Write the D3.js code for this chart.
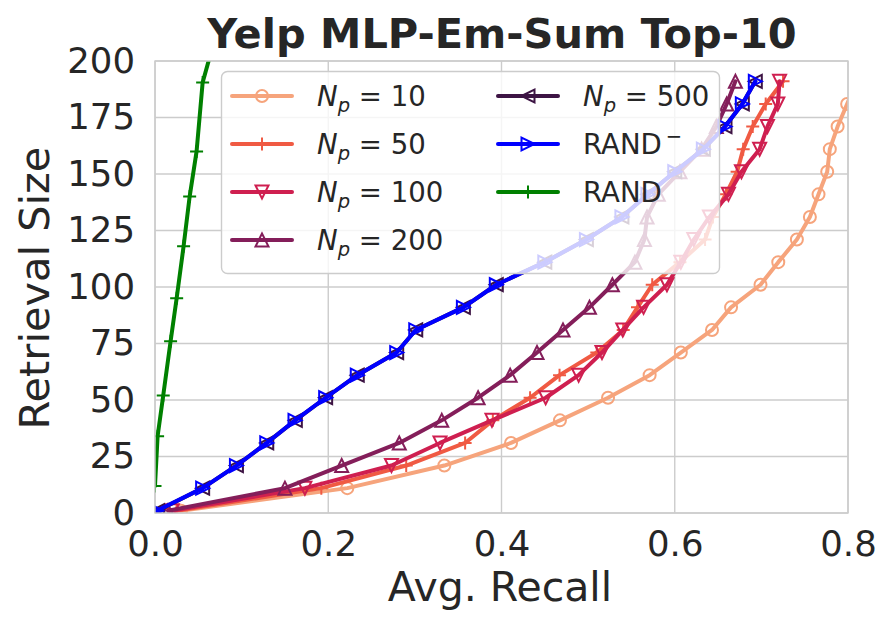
<!DOCTYPE html>
<html lang="en">
<head>
<meta charset="UTF-8">
<title>Yelp MLP-Em-Sum Top-10</title>
<script src="https://d3js.org/d3.v7.min.js"></script>
<style>
  body { margin: 0; background: #fff; }
  svg { display: block; font-family: "DejaVu Sans", sans-serif; }
  text { white-space: pre; }
</style>
</head>
<body>
<script>
// retrieval sizes shared by the N_p and RAND- runs
const sizes = [1, 11, 21, 31, 41, 51, 61, 71, 81, 91, 101, 111, 121, 131, 141, 151, 161, 171, 181, 191];

const recallNp10  = [0.030, 0.222, 0.334, 0.411, 0.4675, 0.523, 0.571, 0.607, 0.643, 0.665, 0.699, 0.7195, 0.741, 0.756, 0.766, 0.776, 0.779, 0.788, 0.799, 0.810];
const recallNp50  = [0.025, 0.192, 0.290, 0.358, 0.390, 0.433, 0.467, 0.510, 0.5405, 0.557, 0.574, 0.606, 0.635, 0.644, 0.659, 0.672, 0.679, 0.690, 0.705, 0.725];
const recallNp100 = [0.020, 0.173, 0.273, 0.329, 0.389, 0.451, 0.489, 0.516, 0.540, 0.564, 0.591, 0.607, 0.622, 0.640, 0.662, 0.677, 0.698, 0.707, 0.719, 0.721];
const recallNp200 = [0.015, 0.150, 0.2155, 0.282, 0.331, 0.373, 0.410, 0.441, 0.471, 0.5015, 0.528, 0.554, 0.565, 0.568, 0.581, 0.606, 0.631, 0.648, 0.660, 0.670];
const recallNp500 = [0.003, 0.055, 0.094, 0.129, 0.162, 0.197, 0.2335, 0.279, 0.301, 0.356, 0.394, 0.450, 0.498, 0.539, 0.569, 0.600, 0.633, 0.658, 0.678, 0.693];
const recallRandMinus = [0.002, 0.055, 0.094, 0.129, 0.1616, 0.197, 0.2335, 0.279, 0.301, 0.356, 0.394, 0.450, 0.498, 0.539, 0.569, 0.600, 0.633, 0.658, 0.678, 0.693];

// RAND has its own sizes
const randSizes  = [12, 34, 52, 76, 95, 118, 140, 160, 190.5, 214];
const randRecall = [0.000, 0.003, 0.0095, 0.018, 0.025, 0.033, 0.040, 0.048, 0.055, 0.072];

const xTicks = [0, 0.2, 0.4, 0.6, 0.8];
const yTicks = [0, 25, 50, 75, 100, 125, 150, 175, 200];

const series = [
  { name: "N", sub: "p", rest: " = 10",  color: "#f6a47c", marker: "circle", xs: recallNp10,  ys: sizes },
  { name: "N", sub: "p", rest: " = 50",  color: "#f05a43", marker: "plus",   xs: recallNp50,  ys: sizes },
  { name: "N", sub: "p", rest: " = 100", color: "#cf1f50", marker: "down",   xs: recallNp100, ys: sizes },
  { name: "N", sub: "p", rest: " = 200", color: "#841e5a", marker: "up",     xs: recallNp200, ys: sizes },
  { name: "N", sub: "p", rest: " = 500", color: "#3d1444", marker: "left",   xs: recallNp500, ys: sizes },
  { name: "RAND", sup: "\u2212",          color: "#0000ff", marker: "right",  xs: recallRandMinus, ys: sizes },
  { name: "RAND",                         color: "#008000", marker: "plus",   xs: randRecall,  ys: randSizes }
];

const W = 893, H = 629;
const plotL = 155, plotR = 848, plotT = 61, plotB = 513;
const textColor = "#262626", gridColor = "#cccccc";

const x = d3.scaleLinear().domain([0, 0.8]).range([plotL, plotR]);
const y = d3.scaleLinear().domain([0, 200]).range([plotB, plotT]);

const svg = d3.select("body").append("svg")
  .attr("width", W)
  .attr("height", H);

svg.append("defs").append("clipPath").attr("id", "plot-clip")
  .append("rect")
  .attr("x", plotL).attr("y", plotT)
  .attr("width", plotR - plotL).attr("height", plotB - plotT);

// grid
svg.append("g").selectAll("line")
  .data(yTicks).join("line")
  .attr("x1", plotL).attr("x2", plotR)
  .attr("y1", d => y(d)).attr("y2", d => y(d))
  .attr("stroke", gridColor).attr("stroke-width", 1.4);

svg.append("g").selectAll("line")
  .data(xTicks).join("line")
  .attr("y1", plotT).attr("y2", plotB)
  .attr("x1", d => x(d)).attr("x2", d => x(d))
  .attr("stroke", gridColor).attr("stroke-width", 1.4);

// axes (labels only)
const yAxis = svg.append("g")
  .attr("transform", `translate(${plotL},0)`)
  .call(d3.axisLeft(y).tickValues(yTicks).tickSize(0).tickPadding(20).tickFormat(d3.format("d")));
const xAxis = svg.append("g")
  .attr("transform", `translate(0,${plotB})`)
  .call(d3.axisBottom(x).tickValues(xTicks).tickSize(0).tickPadding(18).tickFormat(d3.format(".1f")));

[yAxis, xAxis].forEach(a => {
  a.select(".domain").remove();
  a.selectAll("text")
    .attr("fill", textColor)
    .attr("font-size", 35.5)
    .attr("font-family", "DejaVu Sans");
});

// marker shapes, matplotlib-like
function markerPath(type, r) {
  switch (type) {
    case "circle": return `M${r},0A${r},${r} 0 1,1 ${-r},0A${r},${r} 0 1,1 ${r},0Z`;
    case "plus":   return `M${-r},0H${r}M0,${-r}V${r}`;
    case "up":     return `M0,${-r}L${-r},${r}L${r},${r}Z`;
    case "down":   return `M0,${r}L${-r},${-r}L${r},${-r}Z`;
    case "left":   return `M${-r},0L${r},${-r}L${r},${r}Z`;
    case "right":  return `M${r},0L${-r},${-r}L${-r},${r}Z`;
  }
}

const line = d3.line()
  .x(d => x(d[0]))
  .y(d => y(d[1]));

const plot = svg.append("g").attr("clip-path", "url(#plot-clip)");

series.forEach(s => {
  const pts = s.xs.map((v, i) => [v, s.ys[i]]);
  const g = plot.append("g");
  g.append("path")
    .datum(pts)
    .attr("d", line)
    .attr("fill", "none")
    .attr("stroke", s.color)
    .attr("stroke-width", 4)
    .attr("stroke-linejoin", "round")
    .attr("stroke-linecap", "round");
  g.selectAll("path.mk")
    .data(pts).join("path")
    .attr("class", "mk")
    .attr("transform", d => `translate(${x(d[0])},${y(d[1])})`)
    .attr("d", markerPath(s.marker, s.marker === "circle" ? 6 : 6.5))
    .attr("fill", "none")
    .attr("stroke", s.color)
    .attr("stroke-width", 2);
});

// spines
svg.append("rect")
  .attr("x", plotL).attr("y", plotT)
  .attr("width", plotR - plotL).attr("height", plotB - plotT)
  .attr("fill", "none")
  .attr("stroke", gridColor)
  .attr("stroke-width", 1.4);

// legend
const legend = svg.append("g");
legend.append("rect")
  .attr("x", 221.5).attr("y", 71.5)
  .attr("width", 498).attr("height", 202)
  .attr("rx", 6)
  .attr("fill", "#ffffff").attr("fill-opacity", 0.8)
  .attr("stroke", "#cccccc").attr("stroke-width", 1.4);

const colX = [232, 498];
const rowY = [96, 144, 192, 240];
series.forEach((s, i) => {
  const cx = colX[i < 4 ? 0 : 1];
  const cy = rowY[i < 4 ? i : i - 4];
  const item = legend.append("g");
  item.append("line")
    .attr("x1", cx).attr("x2", cx + 60)
    .attr("y1", cy).attr("y2", cy)
    .attr("stroke", s.color).attr("stroke-width", 4).attr("stroke-linecap", "round");
  item.append("path")
    .attr("transform", `translate(${cx + 30},${cy})`)
    .attr("d", markerPath(s.marker, s.marker === "circle" ? 6 : 6.5))
    .attr("fill", "none").attr("stroke", s.color).attr("stroke-width", 2);
  const t = item.append("text")
    .attr("x", cx + 85).attr("y", cy + 10)
    .attr("fill", textColor)
    .attr("font-size", 27.6);
  if (s.sub) {
    t.append("tspan").attr("font-style", "italic").text(s.name);
    t.append("tspan").attr("font-style", "italic").attr("font-size", 19.5).attr("dy", 6).text(s.sub);
    t.append("tspan").attr("dy", -6).text(s.rest);
  } else if (s.sup) {
    t.append("tspan").text(s.name);
    t.append("tspan").attr("font-size", 19.5).attr("dy", -11).attr("dx", 4).text(s.sup);
  } else {
    t.text(s.name);
  }
});

// title and axis labels
svg.append("text")
  .attr("x", 502).attr("y", 48)
  .attr("text-anchor", "middle")
  .attr("font-size", 41.5).attr("font-weight", "bold")
  .attr("fill", textColor)
  .text("Yelp MLP-Em-Sum Top-10");

svg.append("text")
  .attr("x", 500).attr("y", 601)
  .attr("text-anchor", "middle")
  .attr("font-size", 41)
  .attr("fill", textColor)
  .text("Avg. Recall");

svg.append("text")
  .attr("transform", `translate(49,288) rotate(-90)`)
  .attr("text-anchor", "middle")
  .attr("font-size", 41.5)
  .attr("fill", textColor)
  .text("Retrieval Size");
</script>
</body>
</html>
